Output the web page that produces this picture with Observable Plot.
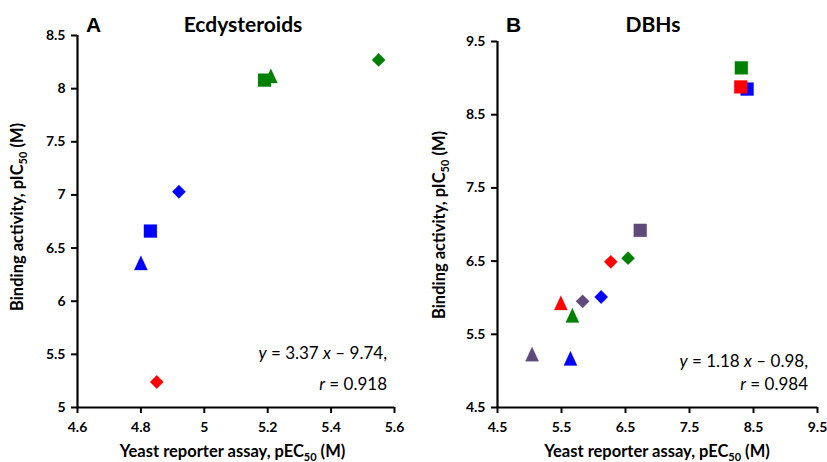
<!DOCTYPE html>
<html><head><meta charset="utf-8">
<script src="https://cdn.jsdelivr.net/npm/d3@7"></script>
<script src="https://cdn.jsdelivr.net/npm/@observablehq/plot@0.6"></script>
<style>
body{margin:0;background:#fff;}
#wrap{display:flex;width:827px;height:462px;overflow:hidden;}
</style></head><body><div id="wrap"></div>
<script>
// Panel A: Ecdysteroids
const colorsA = ["green","blue","red","green","blue","green","blue"];
const shapesA = ["diamond","diamond","diamond","square","square","triangle","triangle"];
const xA = [5.55, 4.92, 4.85, 5.19, 4.83, 5.21, 4.80];
const yA = [8.27, 7.03, 5.24, 8.08, 6.66, 8.12, 6.36];
const xTicksA = [4.6, 4.8, 5, 5.2, 5.4, 5.6];
const yTicksA = [5, 5.5, 6, 6.5, 7, 7.5, 8, 8.5];

// Panel B: DBHs
const colorsB = ["green","red","blue","purple","blue","red","green","purple","red","green","purple","blue"];
const shapesB = ["diamond","diamond","diamond","diamond","square","square","square","square","triangle","triangle","triangle","triangle"];
const xB = [6.54, 6.27, 6.12, 5.83, 8.40, 8.30, 8.31, 6.73, 5.49, 5.67, 5.04, 5.64];
const yB = [6.54, 6.49, 6.01, 5.95, 8.85, 8.88, 9.14, 6.92, 5.93, 5.76, 5.23, 5.17];
const xTicksB = [4.5, 5.5, 6.5, 7.5, 8.5, 9.5];
const yTicksB = [4.5, 5.5, 6.5, 7.5, 8.5, 9.5];

const palette = {green: "#008000", blue: "#0000FF", red: "#FF0000", purple: "#604A7B"};
// Excel-style triangle: slightly taller than wide, centred on its bounding box
const tallTriangle = {
  draw(context, size) {
    const r = Math.sqrt(size / Math.PI);
    const hw = r, hh = r * 1.08;
    context.moveTo(0, -hh);
    context.lineTo(hw, hh);
    context.lineTo(-hw, hh);
    context.closePath();
  }
};
const symbolInfo = {square: ["square", 7.3], diamond: ["diamond2", 6.0], triangle: [tallTriangle, 6.6]};

function panel(cfg) {
  const data = cfg.x.map((v, i) => ({x: v, y: cfg.y[i], color: palette[cfg.colors[i]], shape: cfg.shapes[i]}));
  const dotMarks = ["diamond", "square", "triangle"].map(s =>
    Plot.dot(data.filter(d => d.shape === s), {
      x: "x", y: "y", fill: "color", stroke: "color", strokeOpacity: 0.35, strokeWidth: 0.8,
      symbol: symbolInfo[s][0], r: symbolInfo[s][1]
    })
  );
  const plot = Plot.plot({
    width: cfg.width, height: 462,
    marginLeft: cfg.ml, marginRight: cfg.mr, marginTop: cfg.mt, marginBottom: 55,
    style: {fontFamily: "Lato", fontSize: "14px", fontWeight: "bold", color: "#000", background: "#fff", overflow: "visible"},
    x: {domain: [cfg.xTicks[0], cfg.xTicks[cfg.xTicks.length - 1]]},
    y: {domain: [cfg.yTicks[0], cfg.yTicks[cfg.yTicks.length - 1]]},
    marks: [
      Plot.axisX({ticks: cfg.xTicks, tickSize: 6, tickPadding: 9, strokeWidth: 2, tickFormat: d => String(d), label: null}),
      Plot.axisY({ticks: cfg.yTicks, tickSize: 6, tickPadding: 6, strokeWidth: 2, tickFormat: d => String(d), label: null}),
      Plot.ruleX([cfg.xTicks[0]], {strokeWidth: 2.2}),
      Plot.ruleY([cfg.yTicks[0]], {strokeWidth: 2.2}),
      ...dotMarks
    ]
  });
  const svg = d3.select(plot);
  const xr = plot.scale("x").range;
  const cx = (xr[0] + xr[1]) / 2 + cfg.xtShift;
  // panel letter
  svg.append("text").attr("x", cfg.letterX).attr("y", 32).attr("text-anchor", "start")
    .attr("font-family", "Liberation Sans, Arial").attr("font-size", 21).attr("font-weight", "bold")
    .text(cfg.letter);
  // panel title
  svg.append("text").attr("x", cfg.titleX).attr("y", 32).attr("text-anchor", "middle")
    .attr("font-size", 21).attr("font-weight", "bold").text(cfg.title);
  // x title
  const xt = svg.append("text").attr("x", cx).attr("y", 457).attr("text-anchor", "middle")
    .attr("font-size", 16.5).attr("font-weight", "bold");
  xt.append("tspan").text("Yeast reporter assay, pEC");
  xt.append("tspan").attr("font-size", 11).attr("dy", 4).text("50");
  xt.append("tspan").attr("dy", -4).text(" (M)");
  // y title
  const yt = svg.append("text").attr("transform", `translate(${cfg.ytX},${cfg.ytY}) rotate(-90)`)
    .attr("text-anchor", "middle").attr("font-size", 16.5).attr("font-weight", "bold");
  yt.append("tspan").text("Binding activity, pIC");
  yt.append("tspan").attr("font-size", 11).attr("dy", 4).text("50");
  yt.append("tspan").attr("dy", -4).text(" (M)");
  // equation
  const e1 = svg.append("text").attr("x", cfg.eqX).attr("y", cfg.eqY1).attr("text-anchor", "end")
    .attr("font-size", 17).attr("font-weight", "normal");
  e1.append("tspan").attr("font-style", "italic").text("y");
  e1.append("tspan").text(` = ${cfg.slope} `);
  e1.append("tspan").attr("font-style", "italic").text("x");
  e1.append("tspan").text(` – ${cfg.intercept},`);
  const e2 = svg.append("text").attr("x", cfg.eqX).attr("y", cfg.eqY2).attr("text-anchor", "end")
    .attr("font-size", 17).attr("font-weight", "normal");
  e2.append("tspan").attr("font-style", "italic").text("r");
  e2.append("tspan").text(` = ${cfg.r}`);
  return plot;
}

const wrap = document.getElementById("wrap");
wrap.appendChild(panel({
  x: xA, y: yA, colors: colorsA, shapes: shapesA, xTicks: xTicksA, yTicks: yTicksA,
  width: 413, ml: 77, mr: 19, mt: 35, xtShift: -3,
  letter: "A", letterX: 86, title: "Ecdysteroids", titleX: 243,
  ytX: 23, ytY: 217, eqX: 387, eqY1: 359, eqY2: 390, slope: "3.37", intercept: "9.74", r: "0.918"
}));
wrap.appendChild(panel({
  x: xB, y: yB, colors: colorsB, shapes: shapesB, xTicks: xTicksB, yTicks: yTicksB,
  width: 414, ml: 84, mr: 10, mt: 41, xtShift: 0,
  letter: "B", letterX: 93, title: "DBHs", titleX: 240,
  ytX: 32, ytY: 225, eqX: 395, eqY1: 367, eqY2: 390, slope: "1.18", intercept: "0.98", r: "0.984"
}));
</script></body></html>
